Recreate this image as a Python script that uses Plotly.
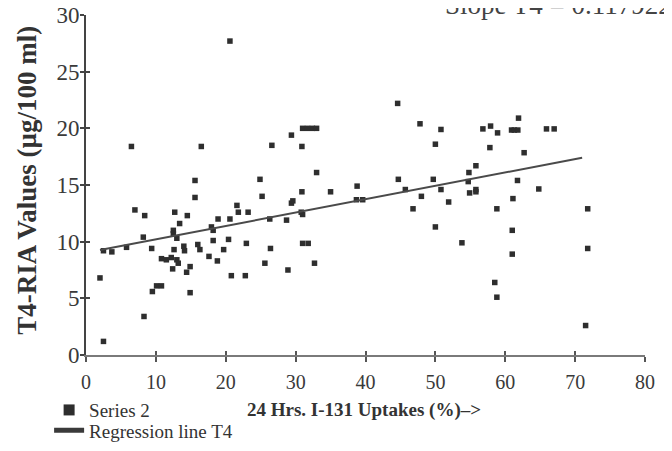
import plotly.graph_objects as go

# ---- data ----
uptake = [2.0, 2.5, 2.5, 3.7, 5.8, 6.5, 7.0, 8.2, 8.3, 8.4, 9.4, 9.5, 10.1, 10.8, 10.8, 11.5,
          12.2, 12.4, 12.5, 12.5, 12.6, 12.7, 13.0, 13.0, 13.2, 13.4, 14.0, 14.1, 14.4, 14.5,
          14.9, 14.9, 15.6, 15.6, 16.0, 16.3, 16.5, 17.6, 17.95, 18.2, 18.2, 18.8, 18.9, 19.7,
          20.4, 20.6, 20.6, 20.8, 21.6, 21.8, 22.8, 22.95, 23.2, 24.9, 25.2, 25.6, 26.3, 26.4,
          26.6, 28.7, 28.9, 29.4, 29.4, 29.6, 30.8, 30.9, 30.9, 31.0, 31.0, 31.0, 31.7, 31.8,
          32.4, 33.0, 32.7, 33.0, 35.0, 38.7, 38.8, 39.6, 44.6, 44.7, 45.7, 46.8, 47.8, 48.0,
          49.7, 50.0, 50.0, 50.8, 50.8, 51.9, 53.8, 54.7, 54.8, 54.9, 55.8, 55.8, 55.8, 56.8,
          57.8, 57.9, 58.5, 58.8, 58.8, 58.9, 60.9, 61.3, 61.8, 61.0, 61.0, 61.1, 61.75, 61.9,
          62.7, 64.8, 65.9, 67.0, 71.5, 71.8, 71.8]
t4 = [6.8, 1.2, 9.2, 9.1, 9.5, 18.4, 12.8, 10.4, 3.4, 12.3, 9.4, 5.6, 6.1, 6.1, 8.5, 8.4,
      8.6, 7.6, 11.0, 10.7, 9.3, 12.6, 10.3, 8.4, 8.1, 11.6, 9.6, 9.2, 7.3, 12.3,
      7.8, 5.5, 15.4, 13.9, 9.75, 9.3, 18.4, 8.7, 11.3, 11.0, 10.1, 8.3, 12.0, 9.3,
      10.2, 12.0, 27.7, 7.0, 13.2, 12.6, 7.0, 9.85, 12.6, 15.5, 14.0, 8.1, 12.0, 9.4,
      18.5, 11.9, 7.5, 19.4, 13.4, 13.6, 12.6, 18.4, 14.4, 12.4, 9.85, 20.0, 20.0, 9.85,
      20.0, 20.0, 8.1, 16.1, 14.4, 13.7, 14.9, 13.7, 22.2, 15.5, 14.6, 12.9, 20.4, 14.0,
      15.5, 18.6, 11.3, 19.9, 14.6, 13.5, 9.9, 15.3, 16.1, 14.3, 14.4, 14.6, 16.7, 19.95,
      18.3, 20.2, 6.4, 5.1, 12.9, 19.6, 19.85, 19.85, 19.85, 11.0, 8.9, 13.8, 15.4, 20.9,
      17.85, 14.65, 19.95, 19.95, 2.6, 12.9, 9.4]

slope = 0.117922
intercept = 9.03
reg_x = [2.0, 71.0]
reg_y = [intercept + slope * v for v in reg_x]

x_ticks = [0, 10, 20, 30, 40, 50, 60, 70, 80]
y_ticks = [0, 5, 10, 15, 20, 25, 30]

series_name = "Series 2"
line_name = "Regression line T4"
x_title = "24 Hrs. I-131 Uptakes (%)\u2013>"
y_title = "T4-RIA Values (\u00b5g/100 ml)"
slope_text = "Slope T4 = 0.117922"

SERIF = "Liberation Serif, Times New Roman, serif"
INK = "#2e2e2e"

fig = go.Figure()
fig.add_trace(go.Scatter(x=uptake, y=t4, mode="markers", showlegend=False,
                         marker=dict(symbol="square", size=5.5, color=INK)))
fig.add_trace(go.Scatter(x=reg_x, y=reg_y, mode="lines", showlegend=False,
                         line=dict(color="#4a4a4a", width=2)))
# legend entries
fig.add_trace(go.Scatter(x=[None], y=[None], mode="markers", name=series_name,
                         legend="legend",
                         marker=dict(symbol="square", size=11, color=INK)))
fig.add_trace(go.Scatter(x=[None], y=[None], mode="lines", name=line_name,
                         legend="legend2",
                         line=dict(color="#3a3a3a", width=5)))

legend_common = dict(xanchor="left", yanchor="middle",
                     font=dict(size=19, family=SERIF, color="#333333"),
                     bgcolor="rgba(0,0,0,0)", itemwidth=30)

# the page body has an 8px margin, so margins are reduced by 8px on left/top
fig.update_layout(
    width=672, height=451,
    margin=dict(l=78, r=35, t=7, b=104, autoexpand=False),
    paper_bgcolor="white", plot_bgcolor="white",
    font=dict(family=SERIF, color="#333333"),
    showlegend=True,
    legend=dict(x=-0.066, y=-0.162, **legend_common),
    legend2=dict(x=-0.066, y=-0.222, **legend_common),
    xaxis=dict(range=[0, 80], tickvals=x_ticks, showgrid=False, zeroline=False,
               automargin=False, ticklabeloverflow="allow",
               showline=True, linecolor="#7a7a7a", linewidth=1.5,
               ticks="outside", ticklen=5, tickcolor="#555", tickwidth=1.5,
               ticklabelstandoff=3,
               tickfont=dict(size=20, family=SERIF, color="#3a3a3a")),
    yaxis=dict(range=[0, 30], tickvals=y_ticks, showgrid=False, zeroline=False,
               automargin=False, ticklabeloverflow="allow",
               showline=True, linecolor="#444", linewidth=2,
               ticks="outside", ticklen=4, tickcolor="#444", tickwidth=1.5,
               ticklabelstandoff=-4,
               tickfont=dict(size=23, family=SERIF, color="#3a3a3a")),
    xaxis2=dict(range=[0, 80], tickvals=x_ticks, overlaying="x", side="bottom",
                automargin=False,
                showticklabels=False, showgrid=False, zeroline=False,
                ticks="inside", ticklen=4, tickcolor="#555", tickwidth=1.5, anchor="y"),
    yaxis2=dict(range=[0, 30], tickvals=y_ticks, overlaying="y", side="left",
                automargin=False,
                showticklabels=False, showgrid=False, zeroline=False,
                ticks="inside", ticklen=4, tickcolor="#444", tickwidth=1.5, anchor="x"),
)
# dummy trace to activate secondary axes
fig.add_trace(go.Scatter(x=[None], y=[None], xaxis="x2", yaxis="y2", showlegend=False,
                         hoverinfo="skip"))

fig.add_annotation(text="<b>" + x_title + "</b>", xref="paper", yref="paper",
                   x=0.284, y=-0.162, xanchor="left", yanchor="middle", showarrow=False,
                   font=dict(size=19, family=SERIF, color="#333333"))
fig.add_annotation(text="<b>" + y_title + "</b>", xref="paper", yref="paper",
                   x=-0.106, y=0.515, xanchor="center", yanchor="middle", textangle=-90,
                   showarrow=False, font=dict(size=27, family=SERIF, color="#333333"))
fig.add_annotation(text=slope_text, xref="paper", yref="paper",
                   x=(443 - 86) / 559, y=(355 - 5) / 340, xanchor="left", yanchor="middle",
                   showarrow=False, font=dict(size=27, family=SERIF, color="#444444"))

fig.write_html("out.html")
